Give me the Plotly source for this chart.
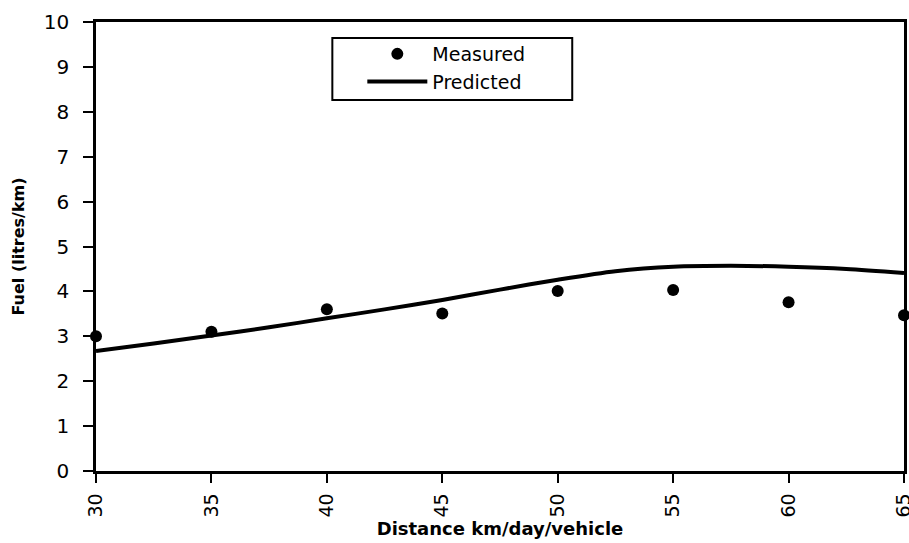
import plotly.graph_objects as go

# Measured data
meas_x = [30, 35, 40, 45, 50, 55, 60, 65]
meas_y = [3.00, 3.10, 3.60, 3.51, 4.01, 4.03, 3.76, 3.47]

# Predicted curve
pred_x = [30, 32.5, 35, 37.5, 40, 42.5, 45, 47.5, 50, 52.5, 55, 57.5, 60, 62.5, 65]
pred_y = [2.67, 2.84, 3.02, 3.20, 3.40, 3.60, 3.81, 4.04, 4.26, 4.45, 4.55, 4.57, 4.55, 4.50, 4.41]

x_ticks = [30, 35, 40, 45, 50, 55, 60, 65]
y_ticks = list(range(0, 11))

FONT = "DejaVu Sans"

fig = go.Figure()
fig.add_trace(go.Scatter(
    x=meas_x, y=meas_y, mode="markers", name="Measured",
    marker=dict(color="black", size=12), cliponaxis=False,
))
fig.add_trace(go.Scatter(
    x=pred_x, y=pred_y, mode="lines", name="Predicted",
    line=dict(color="black", width=4, shape="spline", smoothing=0.8),
    cliponaxis=False,
))

# legend frame drawn as a rectangle in paper coordinates
fig.add_shape(type="rect", xref="paper", yref="paper",
              x0=0.2925, x1=0.5894, y0=0.8263, y1=0.9644,
              line=dict(color="black", width=2), fillcolor="rgba(0,0,0,0)")

fig.update_layout(
    width=909, height=543,
    margin=dict(l=95.5, r=5, t=22, b=72, autoexpand=False),
    plot_bgcolor="white", paper_bgcolor="white",
    font=dict(family=FONT, size=20, color="black"),
    showlegend=True,
    legend=dict(
        x=0.3296, y=0.971, xanchor="left", yanchor="top",
        borderwidth=0, bgcolor="rgba(0,0,0,0)",
        font=dict(family=FONT, size=19, color="black"),
        itemwidth=60, tracegroupgap=0,
    ),
    xaxis=dict(
        range=[30, 65], tickvals=x_ticks, ticktext=[str(v) for v in x_ticks],
        tickangle=-90, ticks="outside", ticklen=9, tickwidth=2, tickcolor="black",
        ticklabelstandoff=3, ticklabeloverflow="allow",
        showline=True, linewidth=2.5, linecolor="black", mirror=True,
        showgrid=False, zeroline=False,
        tickfont=dict(family=FONT, size=19),
        title=dict(text="<b>Distance km/day/vehicle</b>",
                   font=dict(family=FONT, size=18), standoff=4),
    ),
    yaxis=dict(
        range=[0, 10], tickvals=y_ticks, ticks="outside", ticklen=10, tickwidth=2,
        tickcolor="black", ticklabelstandoff=10,
        showline=True, linewidth=2.5, linecolor="black", mirror=True,
        showgrid=False, zeroline=False,
        tickfont=dict(family=FONT, size=20),
        title=dict(text="<b>Fuel (litres/km)</b>",
                   font=dict(family=FONT, size=16), standoff=16),
    ),
)

fig.write_html("out.html",
               config={"displayModeBar": False},
               post_script="document.body.style.margin='0px';document.body.style.overflow='hidden';")
